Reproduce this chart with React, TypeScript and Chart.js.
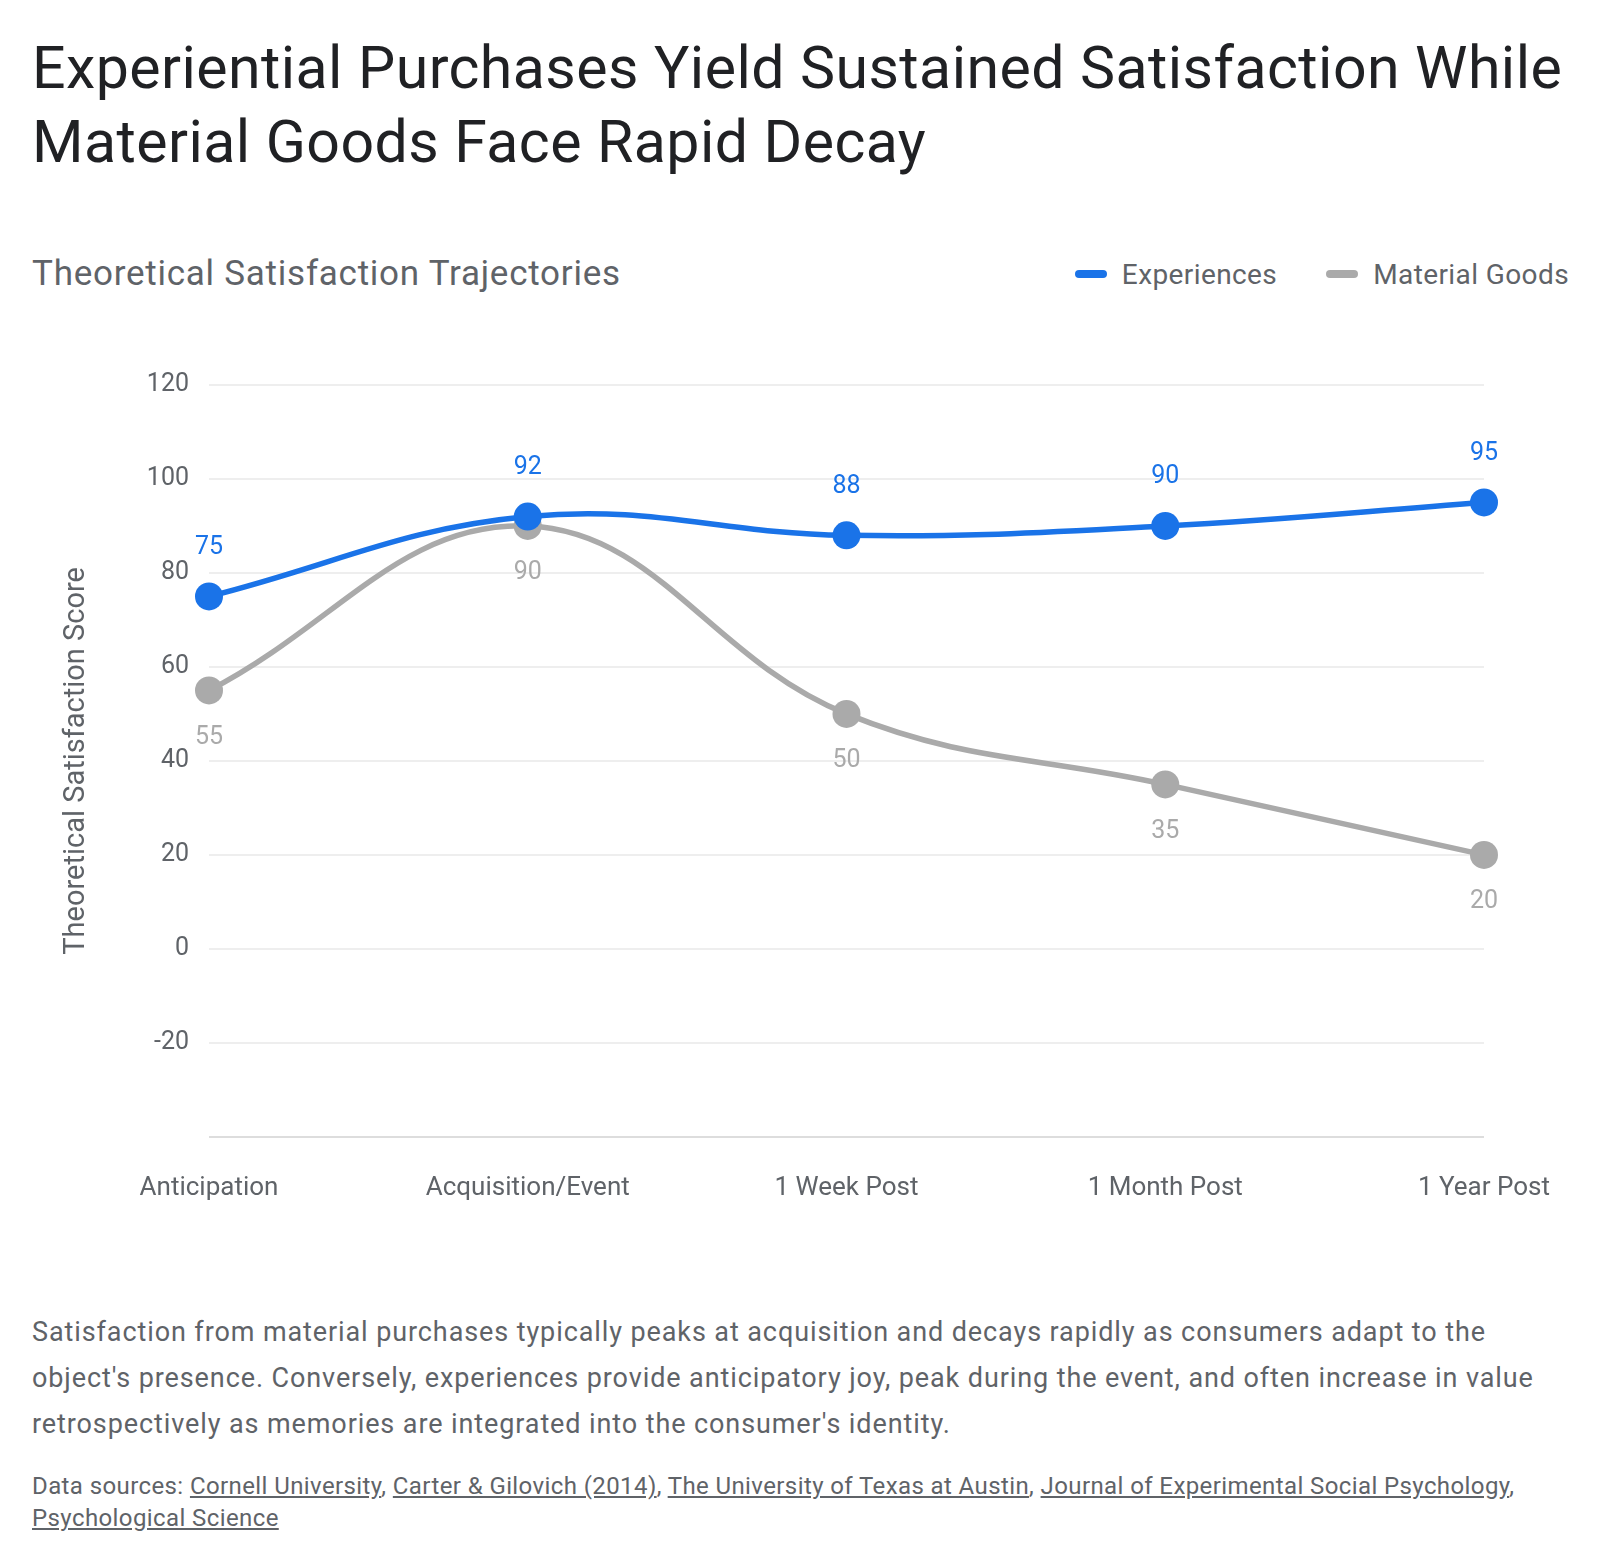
import React, { useEffect, useRef } from "react";
import { Chart, registerables } from "chart.js";

Chart.register(...registerables);

const categories = ["Anticipation", "Acquisition/Event", "1 Week Post", "1 Month Post", "1 Year Post"];
const experiences = [75, 92, 88, 90, 95];
const materialGoods = [55, 90, 50, 35, 20];
const seriesNames = ["Experiences", "Material Goods"];
const sources = [
  "Cornell University",
  "Carter & Gilovich (2014)",
  "The University of Texas at Austin",
  "Journal of Experimental Social Psychology",
  "Psychological Science",
];

const BLUE = "#1a73e8";
const GREY = "#aaaaaa";
const TEXT = "#5f6368";
const FONT = "Roboto, 'Noto Sans', sans-serif";

const labelPlugin = {
  id: "pointLabels",
  afterDatasetsDraw(chart: any) {
    const ctx = chart.ctx;
    chart.data.datasets.forEach((ds: any, di: number) => {
      const meta = chart.getDatasetMeta(di);
      ctx.save();
      ctx.font = `25px ${FONT}`;
      ctx.textAlign = "center";
      ctx.textBaseline = "middle";
      ctx.fillStyle = di === 0 ? BLUE : GREY;
      meta.data.forEach((pt: any, i: number) => {
        const dy = di === 0 ? -49 : 47;
        ctx.fillText(String(ds.data[i]), pt.x, pt.y + dy);
      });
      ctx.restore();
    });
  },
};

function LineChart() {
  const ref = useRef<HTMLCanvasElement>(null);
  useEffect(() => {
    if (!ref.current) return;
    const chart = new Chart(ref.current, {
      type: "line",
      data: {
        labels: categories,
        datasets: [
          {
            label: seriesNames[0],
            data: experiences,
            borderColor: BLUE,
            backgroundColor: BLUE,
            borderWidth: 5.5,
            pointRadius: 14,
            pointHoverRadius: 14,
            pointBorderWidth: 0,
            tension: 0.4,
          },
          {
            label: seriesNames[1],
            data: materialGoods,
            borderColor: GREY,
            backgroundColor: GREY,
            borderWidth: 5.5,
            pointRadius: 14,
            pointHoverRadius: 14,
            pointBorderWidth: 0,
            tension: 0.4,
          },
        ],
      },
      options: {
        animation: false,
        responsive: true,
        maintainAspectRatio: false,
        layout: { padding: { left: 0, right: 84, top: 56, bottom: 19 } },
        plugins: {
          legend: { display: false },
          tooltip: { enabled: false },
        },
        scales: {
          x: {
            afterFit: (scale: any) => {
              scale.paddingLeft = 0;
              scale.paddingRight = 0;
            },
            grid: { display: false, drawTicks: false },
            border: { display: false },
            ticks: { padding: 36, color: TEXT, font: { family: FONT, size: 26 } },
          },
          y: {
            min: -40,
            max: 120,
            afterFit: (scale: any) => {
              scale.width = 177;
            },
            ticks: {
              stepSize: 20,
              padding: 20,
              color: TEXT,
              font: { family: FONT, size: 25 },
              callback: (v: any) => (v === -40 ? "" : String(v)),
            },
            grid: {
              drawTicks: false,
              color: (c: any) => (c.tick && c.tick.value === -40 ? "#dddddd" : "#eeeeee"),
              lineWidth: 2,
            },
            border: { display: false },
            title: {
              display: true,
              text: "Theoretical Satisfaction Score",
              color: TEXT,
              font: { family: FONT, size: 29 },
              padding: { top: 27, bottom: 0 },
            },
          },
        },
      },
      plugins: [labelPlugin],
    });
    return () => chart.destroy();
  }, []);
  return <canvas ref={ref} />;
}

export default function App() {
  return (
    <div style={{ position: "relative", width: 1584, height: 1550, fontFamily: FONT, color: TEXT }}>
      <div
        style={{
          position: "absolute",
          left: 24,
          top: 23,
          fontSize: 59,
          lineHeight: "74px",
          letterSpacing: "0.45px",
          color: "#202124",
          width: 1560,
        }}
      >
        Experiential Purchases Yield Sustained Satisfaction While
        <br />
        Material Goods Face Rapid Decay
      </div>
      <div
        style={{
          position: "absolute",
          left: 24,
          top: 241,
          fontSize: 35,
          lineHeight: "50px",
          letterSpacing: "0.75px",
        }}
      >
        Theoretical Satisfaction Trajectories
      </div>
      <div
        style={{
          position: "absolute",
          right: 23,
          top: 241,
          height: 50,
          display: "flex",
          alignItems: "center",
          fontSize: 28,
          letterSpacing: "0.4px",
          gap: 49,
        }}
      >
        {seriesNames.map((n, i) => (
          <div key={n} style={{ display: "flex", alignItems: "center" }}>
            <span
              style={{
                display: "inline-block",
                width: 32,
                height: 8,
                borderRadius: 4,
                background: i === 0 ? BLUE : GREY,
                marginRight: 15,
              }}
            />
            <span>{n}</span>
          </div>
        ))}
      </div>
      <div style={{ position: "absolute", left: 24, top: 321, width: 1536, height: 930 }}>
        <LineChart />
      </div>
      <div
        style={{
          position: "absolute",
          left: 24,
          top: 1301,
          width: 1536,
          fontSize: 27,
          lineHeight: "46px",
          letterSpacing: "0.9px",
        }}
      >
        Satisfaction from material purchases typically peaks at acquisition and decays rapidly as consumers adapt to the
        object's presence. Conversely, experiences provide anticipatory joy, peak during the event, and often increase in
        value retrospectively as memories are integrated into the consumer's identity.
      </div>
      <div
        style={{
          position: "absolute",
          left: 24,
          top: 1462,
          width: 1536,
          fontSize: 24,
          lineHeight: "32px",
          letterSpacing: "0.4px",
        }}
      >
        Data sources:{" "}
        {sources.map((s, i) => (
          <span key={s}>
            <span style={{ textDecoration: "underline" }}>{s}</span>
            {i < sources.length - 1 ? ", " : ""}
          </span>
        ))}
      </div>
    </div>
  );
}
